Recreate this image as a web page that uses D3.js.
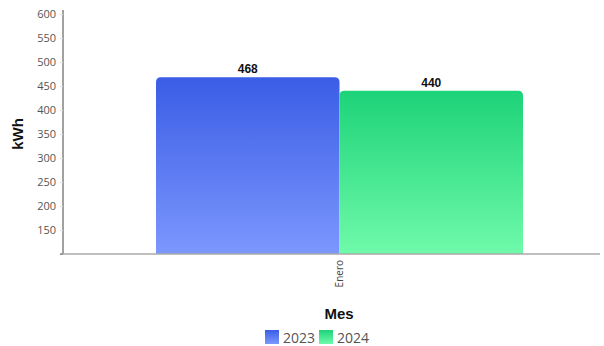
<!DOCTYPE html>
<html><head><meta charset="utf-8">
<script src="https://cdn.jsdelivr.net/npm/d3@7"></script>
<style>body{margin:0;background:#fff;}svg{display:block;font-family:"Open Sans",sans-serif;}</style>
</head><body>
<svg id="c" width="604" height="346"></svg>
<script>
const categories = ["Enero"];
const seriesNames = ["2023", "2024"];
const values2023 = [468];
const values2024 = [440];
const yTicks = [100, 150, 200, 250, 300, 350, 400, 450, 500, 550, 600];

(function () {
const svg = d3.select("#c");
const defs = svg.append("defs");
const grads = [["g2023", "#3a5de6", "#7c97fd"], ["g2024", "#1dd379", "#6ffaaa"]];
grads.forEach(([id, c1, c2]) => {
  const g = defs.append("linearGradient").attr("id", id).attr("x1", 0).attr("y1", 0).attr("x2", 0).attr("y2", 1);
  g.append("stop").attr("offset", "0%").attr("stop-color", c1);
  g.append("stop").attr("offset", "100%").attr("stop-color", c2);
});

const mLeft = 63, mRight = 600, mTop = 14, mBottom = 254;
const y = d3.scaleLinear().domain([100, 600]).range([mBottom, mTop]);
const xOuter = d3.scaleBand().domain(categories).range([156, 523]);
const xs = d3.scaleBand().domain(seriesNames).range([0, xOuter.bandwidth()]);

const data = [];
categories.forEach((c, i) => {
  data.push({cat: c, s: "2023", v: values2023[i]});
  data.push({cat: c, s: "2024", v: values2024[i]});
});

function topRoundedRect(x, yy, w, h, r) {
  return `M${x},${yy + h}V${yy + r}Q${x},${yy} ${x + r},${yy}H${x + w - r}Q${x + w},${yy} ${x + w},${yy + r}V${yy + h}Z`;
}

svg.append("g").selectAll("path").data(data).join("path")
  .attr("d", d => {
    const bx = xOuter(d.cat) + xs(d.s);
    const by = y(d.v);
    return topRoundedRect(bx, by, xs.bandwidth(), mBottom - by, 5);
  })
  .attr("fill", d => `url(#g${d.s})`);

svg.append("g").selectAll("text").data(data).join("text")
  .attr("x", d => xOuter(d.cat) + xs(d.s) + xs.bandwidth() / 2)
  .attr("y", d => y(d.v) - 4)
  .attr("text-anchor", "middle")
  .attr("font-family", "Liberation Sans, Arial, sans-serif")
  .attr("font-size", 12).attr("font-weight", "bold").attr("fill", "#111")
  .text(d => d.v);

const ya = svg.append("g").attr("transform", `translate(${mLeft},0)`)
  .call(d3.axisLeft(y).tickValues(yTicks).tickSize(3).tickFormat(d => d === 100 ? "" : d));
ya.select(".domain").attr("stroke", "#444").attr("d", `M-3,${mBottom}H0V${mTop - 4}`);
ya.selectAll(".tick line").attr("stroke", "#ddd");
ya.selectAll(".tick text").attr("font-size", 11).attr("fill", "#555").attr("font-family", "Open Sans, sans-serif").attr("x", -7);
ya.selectAll(".tick").filter(d => d === 100).select("line").attr("stroke", "#444").attr("x2", -3);

const xa = svg.append("g").attr("transform", `translate(0,${mBottom})`)
  .call(d3.axisBottom(xOuter).tickSize(0));
xa.select(".domain").attr("stroke", "#aaa").attr("stroke-width", 1.5).attr("d", `M${mLeft - 3},0H${mRight}`);
xa.selectAll(".tick text").attr("font-size", 10).attr("fill", "#444").attr("font-family", "Open Sans, sans-serif")
  .attr("transform", "rotate(-90)").attr("text-anchor", "end").attr("x", -6).attr("y", 0).attr("dy", "0.35em");

svg.append("text").attr("x", 339).attr("y", 319).attr("text-anchor", "middle")
  .attr("font-family", "Liberation Sans, Arial, sans-serif")
  .attr("font-size", 15).attr("font-weight", "bold").attr("fill", "#111").text("Mes");
svg.append("text").attr("transform", `translate(23,${(mTop + mBottom) / 2}) rotate(-90)`).attr("text-anchor", "middle")
  .attr("font-family", "Liberation Sans, Arial, sans-serif")
  .attr("font-size", 15).attr("font-weight", "bold").attr("fill", "#111").text("kWh");

const lg = svg.append("g");
const legendX = [265, 319];
seriesNames.forEach((s, i) => {
  lg.append("rect").attr("x", legendX[i]).attr("y", 330).attr("width", 14).attr("height", 14).attr("fill", `url(#g${s})`);
  lg.append("text").attr("x", legendX[i] + 18).attr("y", 342.5).attr("font-size", 14).attr("fill", "#555").text(s);
});
})();
</script>
</body></html>
